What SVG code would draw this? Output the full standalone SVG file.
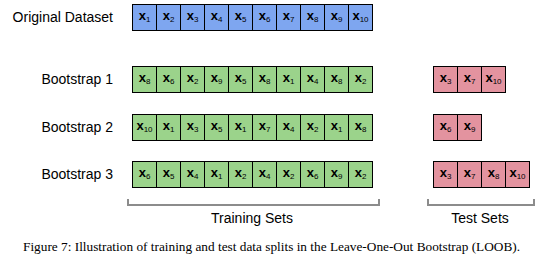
<svg xmlns="http://www.w3.org/2000/svg" width="557" height="267" viewBox="0 0 557 267">
<style>
.lbl{font-family:"Liberation Sans",Arial,sans-serif;font-size:14px;fill:#000}
.cell{stroke:#000;stroke-width:1}
.b{fill:#7ea6f0}.g{fill:#9bd38b}.p{fill:#e3939f}
.x{font-family:"Liberation Sans",Arial,sans-serif;font-size:13px;font-weight:bold;fill:#000;text-anchor:middle}
.s{font-size:8px;font-weight:normal}
.br{fill:none;stroke:#8c8c8c;stroke-width:2}
.cap{font-family:"Liberation Serif","Times New Roman",serif;font-size:13.3px;fill:#000}
</style>
<rect width="557" height="267" fill="#fff"/>
<g id="original">
<text class="lbl" x="113" y="22" text-anchor="end">Original Dataset</text>
<g class="b">
<rect class="cell" x="132.5" y="4.5" width="24" height="26"/><rect class="cell" x="156.5" y="4.5" width="24" height="26"/><rect class="cell" x="180.5" y="4.5" width="24" height="26"/><rect class="cell" x="204.5" y="4.5" width="24" height="26"/><rect class="cell" x="228.5" y="4.5" width="24" height="26"/><rect class="cell" x="252.5" y="4.5" width="24" height="26"/><rect class="cell" x="276.5" y="4.5" width="24" height="26"/><rect class="cell" x="300.5" y="4.5" width="24" height="26"/><rect class="cell" x="324.5" y="4.5" width="24" height="26"/><rect class="cell" x="348.5" y="4.5" width="24" height="26"/>
</g>
<text class="x" x="144.5" y="20">x<tspan class="s" dy="2">1</tspan></text>
<text class="x" x="168.5" y="20">x<tspan class="s" dy="2">2</tspan></text>
<text class="x" x="192.5" y="20">x<tspan class="s" dy="2">3</tspan></text>
<text class="x" x="216.5" y="20">x<tspan class="s" dy="2">4</tspan></text>
<text class="x" x="240.5" y="20">x<tspan class="s" dy="2">5</tspan></text>
<text class="x" x="264.5" y="20">x<tspan class="s" dy="2">6</tspan></text>
<text class="x" x="288.5" y="20">x<tspan class="s" dy="2">7</tspan></text>
<text class="x" x="312.5" y="20">x<tspan class="s" dy="2">8</tspan></text>
<text class="x" x="336.5" y="20">x<tspan class="s" dy="2">9</tspan></text>
<text class="x" x="360.5" y="20">x<tspan class="s" dy="2">10</tspan></text>
</g>
<g id="bootstrap1">
<text class="lbl" x="113" y="84" text-anchor="end">Bootstrap 1</text>
<g class="g">
<rect class="cell" x="132.5" y="66.5" width="24" height="26"/><rect class="cell" x="156.5" y="66.5" width="24" height="26"/><rect class="cell" x="180.5" y="66.5" width="24" height="26"/><rect class="cell" x="204.5" y="66.5" width="24" height="26"/><rect class="cell" x="228.5" y="66.5" width="24" height="26"/><rect class="cell" x="252.5" y="66.5" width="24" height="26"/><rect class="cell" x="276.5" y="66.5" width="24" height="26"/><rect class="cell" x="300.5" y="66.5" width="24" height="26"/><rect class="cell" x="324.5" y="66.5" width="24" height="26"/><rect class="cell" x="348.5" y="66.5" width="24" height="26"/>
</g>
<text class="x" x="144.5" y="82">x<tspan class="s" dy="2">8</tspan></text>
<text class="x" x="168.5" y="82">x<tspan class="s" dy="2">6</tspan></text>
<text class="x" x="192.5" y="82">x<tspan class="s" dy="2">2</tspan></text>
<text class="x" x="216.5" y="82">x<tspan class="s" dy="2">9</tspan></text>
<text class="x" x="240.5" y="82">x<tspan class="s" dy="2">5</tspan></text>
<text class="x" x="264.5" y="82">x<tspan class="s" dy="2">8</tspan></text>
<text class="x" x="288.5" y="82">x<tspan class="s" dy="2">1</tspan></text>
<text class="x" x="312.5" y="82">x<tspan class="s" dy="2">4</tspan></text>
<text class="x" x="336.5" y="82">x<tspan class="s" dy="2">8</tspan></text>
<text class="x" x="360.5" y="82">x<tspan class="s" dy="2">2</tspan></text>
</g>
<g id="bootstrap2">
<text class="lbl" x="113" y="132" text-anchor="end">Bootstrap 2</text>
<g class="g">
<rect class="cell" x="132.5" y="114.5" width="24" height="26"/><rect class="cell" x="156.5" y="114.5" width="24" height="26"/><rect class="cell" x="180.5" y="114.5" width="24" height="26"/><rect class="cell" x="204.5" y="114.5" width="24" height="26"/><rect class="cell" x="228.5" y="114.5" width="24" height="26"/><rect class="cell" x="252.5" y="114.5" width="24" height="26"/><rect class="cell" x="276.5" y="114.5" width="24" height="26"/><rect class="cell" x="300.5" y="114.5" width="24" height="26"/><rect class="cell" x="324.5" y="114.5" width="24" height="26"/><rect class="cell" x="348.5" y="114.5" width="24" height="26"/>
</g>
<text class="x" x="144.5" y="130">x<tspan class="s" dy="2">10</tspan></text>
<text class="x" x="168.5" y="130">x<tspan class="s" dy="2">1</tspan></text>
<text class="x" x="192.5" y="130">x<tspan class="s" dy="2">3</tspan></text>
<text class="x" x="216.5" y="130">x<tspan class="s" dy="2">5</tspan></text>
<text class="x" x="240.5" y="130">x<tspan class="s" dy="2">1</tspan></text>
<text class="x" x="264.5" y="130">x<tspan class="s" dy="2">7</tspan></text>
<text class="x" x="288.5" y="130">x<tspan class="s" dy="2">4</tspan></text>
<text class="x" x="312.5" y="130">x<tspan class="s" dy="2">2</tspan></text>
<text class="x" x="336.5" y="130">x<tspan class="s" dy="2">1</tspan></text>
<text class="x" x="360.5" y="130">x<tspan class="s" dy="2">8</tspan></text>
</g>
<g id="bootstrap3">
<text class="lbl" x="113" y="179" text-anchor="end">Bootstrap 3</text>
<g class="g">
<rect class="cell" x="132.5" y="161.5" width="24" height="26"/><rect class="cell" x="156.5" y="161.5" width="24" height="26"/><rect class="cell" x="180.5" y="161.5" width="24" height="26"/><rect class="cell" x="204.5" y="161.5" width="24" height="26"/><rect class="cell" x="228.5" y="161.5" width="24" height="26"/><rect class="cell" x="252.5" y="161.5" width="24" height="26"/><rect class="cell" x="276.5" y="161.5" width="24" height="26"/><rect class="cell" x="300.5" y="161.5" width="24" height="26"/><rect class="cell" x="324.5" y="161.5" width="24" height="26"/><rect class="cell" x="348.5" y="161.5" width="24" height="26"/>
</g>
<text class="x" x="144.5" y="177">x<tspan class="s" dy="2">6</tspan></text>
<text class="x" x="168.5" y="177">x<tspan class="s" dy="2">5</tspan></text>
<text class="x" x="192.5" y="177">x<tspan class="s" dy="2">4</tspan></text>
<text class="x" x="216.5" y="177">x<tspan class="s" dy="2">1</tspan></text>
<text class="x" x="240.5" y="177">x<tspan class="s" dy="2">2</tspan></text>
<text class="x" x="264.5" y="177">x<tspan class="s" dy="2">4</tspan></text>
<text class="x" x="288.5" y="177">x<tspan class="s" dy="2">2</tspan></text>
<text class="x" x="312.5" y="177">x<tspan class="s" dy="2">6</tspan></text>
<text class="x" x="336.5" y="177">x<tspan class="s" dy="2">9</tspan></text>
<text class="x" x="360.5" y="177">x<tspan class="s" dy="2">2</tspan></text>
</g>
<g id="test1">
<g class="p">
<rect class="cell" x="433.5" y="66.5" width="24" height="26"/><rect class="cell" x="457.5" y="66.5" width="24" height="26"/><rect class="cell" x="481.5" y="66.5" width="24" height="26"/>
</g>
<text class="x" x="445.5" y="82">x<tspan class="s" dy="2">3</tspan></text>
<text class="x" x="469.5" y="82">x<tspan class="s" dy="2">7</tspan></text>
<text class="x" x="493.5" y="82">x<tspan class="s" dy="2">10</tspan></text>
</g>
<g id="test2">
<g class="p">
<rect class="cell" x="433.5" y="114.5" width="24" height="26"/><rect class="cell" x="457.5" y="114.5" width="24" height="26"/>
</g>
<text class="x" x="445.5" y="130">x<tspan class="s" dy="2">6</tspan></text>
<text class="x" x="469.5" y="130">x<tspan class="s" dy="2">9</tspan></text>
</g>
<g id="test3">
<g class="p">
<rect class="cell" x="433.5" y="161.5" width="24" height="26"/><rect class="cell" x="457.5" y="161.5" width="24" height="26"/><rect class="cell" x="481.5" y="161.5" width="24" height="26"/><rect class="cell" x="505.5" y="161.5" width="24" height="26"/>
</g>
<text class="x" x="445.5" y="177">x<tspan class="s" dy="2">3</tspan></text>
<text class="x" x="469.5" y="177">x<tspan class="s" dy="2">7</tspan></text>
<text class="x" x="493.5" y="177">x<tspan class="s" dy="2">8</tspan></text>
<text class="x" x="517.5" y="177">x<tspan class="s" dy="2">10</tspan></text>
</g>
<g id="connectors">
<path class="br" d="M128 199 V205 H379 V199"/>
<path class="br" d="M428 199 V205 H534 V199"/>
</g>
<g id="labels">
<text class="lbl" x="252" y="223" text-anchor="middle">Training Sets</text>
<text class="lbl" x="480" y="223" text-anchor="middle">Test Sets</text>
<text class="cap" x="23" y="251">Figure 7: Illustration of training and test data splits in the Leave-One-Out Bootstrap (LOOB).</text>
</g>
</svg>
